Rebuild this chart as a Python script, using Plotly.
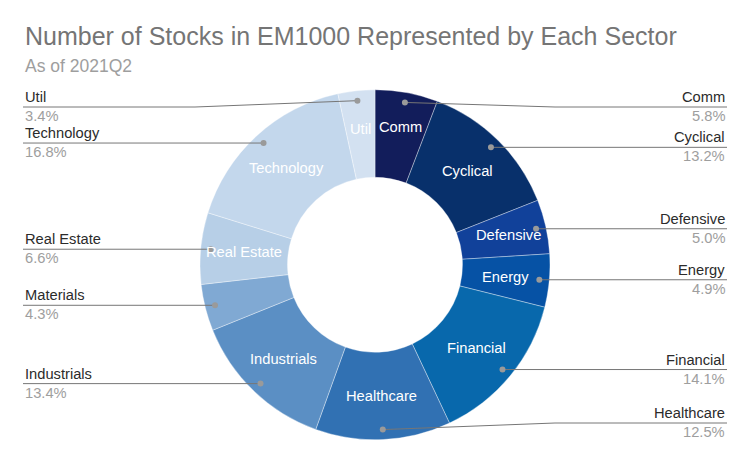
import math
import plotly.graph_objects as go

# ---- data ----
sectors = ["Comm", "Cyclical", "Defensive", "Energy", "Financial", "Healthcare",
           "Industrials", "Materials", "Real Estate", "Technology", "Util"]
shares = [5.8, 13.2, 5.0, 4.9, 14.1, 12.5, 13.4, 4.3, 6.6, 16.8, 3.4]
colors = ["#121d5b", "#08306b", "#11419a", "#0652a5", "#0868ac", "#3171b3",
          "#5b8fc4", "#80a9d3", "#b7cfe7", "#c3d7ec", "#d3e1f1"]

title_text = "Number of Stocks in EM1000 Represented by Each Sector"
subtitle_text = "As of 2021Q2"

# ---- layout constants (pixels, in browser-window coordinates) ----
OFF = 8                      # default page body margin
W, H = 750 - OFF, 463 - OFF  # figure size so the page fits the window
CX, CY, R = 375, 264.75, 175
HOLE = 0.5
FONT = "Arial, Liberation Sans, sans-serif"
LBL_SIZE = 14.7

# Arial advance widths (em) for estimating label sizes
AW = {"C": .722, "o": .556, "m": .833, "y": .5, "c": .5, "l": .222, "i": .222, "a": .556,
      "D": .722, "e": .556, "f": .278, "n": .556, "s": .5, "v": .5, "E": .667, "r": .333,
      "g": .556, "F": .611, "H": .722, "t": .278, "h": .556, "I": .278, "d": .556, "u": .556,
      "M": .833, "R": .722, " ": .278, "T": .611, "U": .722}

def text_w(s, size):
    return sum(AW.get(ch, .556) for ch in s) * size

def px2paper(x, y):
    return (x - OFF) / W, 1 - (y - OFF) / H

def ang_of(dx, dy):
    a = math.degrees(math.atan2(dx, -dy))
    return a % 360

fig = go.Figure(go.Pie(
    labels=sectors, values=shares, sort=False, direction="clockwise", rotation=0,
    hole=HOLE, marker=dict(colors=colors, line=dict(color="rgba(255,255,255,0.45)", width=0.8)),
    textinfo="none",
    domain=dict(x=[(CX - R - OFF) / W, (CX + R - OFF) / W],
                y=[1 - (CY + R - OFF) / H, 1 - (CY - R - OFF) / H]),
    showlegend=False, hoverinfo="label+percent",
))

shapes, annots = [], []
total = sum(shares)
cum = 0.0
for name, v in zip(sectors, shares):
    a0 = cum / total * 360
    a1 = (cum + v) / total * 360
    cum += v
    mid = math.radians((a0 + a1) / 2)

    # ---- inside label: find a radius where the text box fits in the slice ----
    tw, th = text_w(name, LBL_SIZE), LBL_SIZE * 1.0
    r = R * (1 + HOLE) / 2
    placed = None
    while r + th / 2 < R:
        cx, cy = r * math.sin(mid), -r * math.cos(mid)
        ok = True
        for sx in (-1, 1):
            for sy in (-1, 1):
                px, py = cx + sx * tw / 2, cy + sy * th / 2
                rr = math.hypot(px, py)
                if rr > R - 1 or rr < R * HOLE + 1:
                    ok = False
                aa = ang_of(px, py)
                d0 = (aa - a0) % 360
                if d0 > (a1 - a0):
                    ok = False
                elif rr * math.sin(math.radians(min(d0, (a1 - a0) - d0))) < 2.5:
                    ok = False
        if ok:
            placed = (CX + cx, CY + cy)
            break
        r += 1
    if placed:
        x, y = px2paper(*placed)
        annots.append(dict(x=x, y=y, xref="paper", yref="paper", text=name, showarrow=False,
                           xanchor="center", yanchor="middle",
                           font=dict(family=FONT, size=LBL_SIZE, color="white")))

    # ---- leader line + outside label ----
    rd = R * 0.943
    dx, dy = CX + rd * math.sin(mid), CY - rd * math.cos(mid)
    right = math.sin(mid) >= 0
    ly = min(max(dy, 107), 423)
    bend_x = CX + (R + 5) * (1 if right else -1)
    end_x = 727 if right else 23
    p = [px2paper(dx, dy), px2paper(bend_x, ly), px2paper(end_x, ly)]
    path = "M {} {} L {} {} L {} {}".format(p[0][0], p[0][1], p[1][0], p[1][1], p[2][0], p[2][1])
    shapes.append(dict(type="path", xref="paper", yref="paper", path=path,
                       line=dict(color="#767676", width=1)))
    c0 = px2paper(dx - 3, dy + 3)
    c1 = px2paper(dx + 3, dy - 3)
    shapes.append(dict(type="circle", xref="paper", yref="paper",
                       x0=c0[0], x1=c1[0], y0=c0[1], y1=c1[1],
                       fillcolor="#9a9a9a", line=dict(width=0)))
    ax, ay = px2paper(end_x, ly)
    anchor = "right" if right else "left"
    annots.append(dict(x=ax, y=ay, xref="paper", yref="paper", text=name, showarrow=False,
                       xanchor=anchor, yanchor="bottom",
                       font=dict(family=FONT, size=LBL_SIZE, color="#2b2b2b")))
    annots.append(dict(x=ax, y=ay, xref="paper", yref="paper", text=f"{v:.1f}%", showarrow=False,
                       xanchor=anchor, yanchor="top", yshift=1,
                       font=dict(family=FONT, size=LBL_SIZE, color="#9e9e9e")))

tx, ty = px2paper(23, 36)
annots.append(dict(x=tx, y=ty, xref="paper", yref="paper", text=title_text,
                   showarrow=False, xanchor="left", yanchor="middle",
                   font=dict(family=FONT, size=25, color="#757575")))
sx_, sy_ = px2paper(23, 66)
annots.append(dict(x=sx_, y=sy_, xref="paper", yref="paper", text=subtitle_text,
                   showarrow=False, xanchor="left", yanchor="middle",
                   font=dict(family=FONT, size=17.5, color="#9e9e9e")))

fig.update_layout(
    width=W, height=H, margin=dict(l=0, r=0, t=0, b=0),
    paper_bgcolor="white", plot_bgcolor="white",
    shapes=shapes, annotations=annots,
    font=dict(family=FONT),
)
fig.write_html("out.html")
